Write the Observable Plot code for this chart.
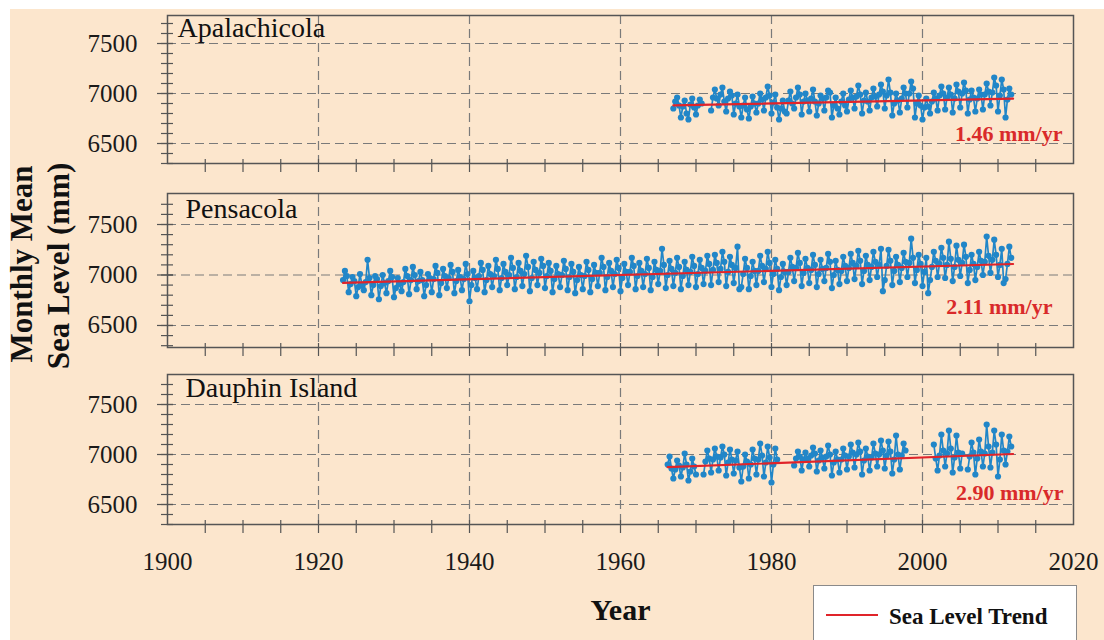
<!DOCTYPE html>
<html><head><meta charset="utf-8">
<script src="https://cdn.jsdelivr.net/npm/d3@7"></script>
<script src="https://cdn.jsdelivr.net/npm/@observablehq/plot@0.6"></script>
<style>
body{margin:0;width:1104px;height:640px;position:relative;overflow:hidden;background:#fff;font-family:"Liberation Serif","Times New Roman",serif;}
#bg{position:absolute;left:10px;top:9px;right:0;bottom:0;background:#fce6cd;}
.panel{position:absolute;left:0;}
.ytitle{position:absolute;width:240px;height:36px;line-height:36px;text-align:center;font-weight:bold;font-size:31px;color:#111;transform:rotate(-90deg);white-space:nowrap;}
#legend{position:absolute;left:813px;top:585px;width:264px;height:70px;box-sizing:border-box;background:#fff;border:1.5px solid #8a8a8a;}
#legend .sw{position:absolute;left:12px;top:28px;width:52px;height:0;border-top:2px solid #e0242a;}
#legend .lt{position:absolute;left:75px;top:19px;font-size:23px;line-height:23px;font-weight:bold;color:#111;white-space:nowrap;}
</style></head><body>
<div id="bg"></div>
<div id="p1" class="panel" style="top:0px"></div>
<div id="p2" class="panel" style="top:180px"></div>
<div id="p3" class="panel" style="top:362px"></div>
<div class="ytitle" style="left:-98px;top:246px;">Monthly Mean</div>
<div class="ytitle" style="left:-61px;top:248px;">Sea Level (mm)</div>
<div id="legend"><span class="sw"></span><span class="lt">Sea Level Trend</span></div>
<script>
// ---------------- data (quarterly readings of monthly mean sea level, mm) ----------------
const stations = ["Apalachicola", "Pensacola", "Dauphin Island"];
const rates = ["1.46 mm/yr", "2.11 mm/yr", "2.90 mm/yr"];
const yTickValues = [6500, 7000, 7500];
const xTickValues = [1900, 1920, 1940, 1960, 1980, 2000, 2020];

// Apalachicola
const apaStarts = [1967.0, 1972.0];
const apa1 = [6850,6920,6960,6880, 6760,6870,6930,6800, 6740,6890,6950,6860, 6790,6880,6940,6900];
const apa2 = [
6830,6960,7040,6950, 6880,6990,7060,6920, 6820,6950,7020,6980, 6790,6900,6990,6870,
6760,6880,6960,6840, 6750,6870,6970,6900, 6810,6900,7000,6940, 6830,6960,7070,6980,
6800,6910,6990,6860, 6740,6850,6930,6820, 6800,6930,7020,6900, 6850,6960,7060,6990,
6790,6920,7000,6930, 6820,6950,7040,6920, 6780,6900,6980,6950, 6830,6960,7030,7010,
6760,6880,6960,6850, 6790,6920,7000,6880, 6820,6940,7030,6960, 6850,6970,7080,6990,
6800,6930,7010,6920, 6830,6960,7050,6970, 6870,6990,7090,7020, 6850,6980,7140,7010,
6780,6900,7000,6930, 6810,6950,7060,7000, 6860,7000,7120,7050, 6760,6900,6980,6880,
6740,6860,6950,6870, 6800,6920,7010,6950, 6830,6980,7070,7000, 6840,6960,7060,6990,
6810,6950,7090,7020, 6860,7000,7110,7030, 6800,6940,7030,6960, 6820,6950,7040,6990,
6840,6990,7100,7020, 6880,7010,7160,7080, 6820,6980,7140,7040, 6760,6940,7050,6990];

// Pensacola
const pensStart = 1923.25;
const pens = [
6950,7040,6990,
6830,6910,6980,6940, 6790,6880,7010,6900, 6850,6930,7150,6970, 6800,6900,6990,6960,
6760,6890,7000,6920, 6820,6940,7040,6980, 6780,6870,6970,6910, 6840,6930,7060,6990,
6810,6950,7080,7000, 6860,6940,7030,6950, 6790,6900,7010,6970, 6830,6960,7090,7020,
6800,6920,7060,6990, 6870,6970,7100,7030, 6820,6940,7050,6980, 6850,6960,7110,7010,
6740,6900,7040,6970, 6860,6990,7120,7050, 6830,6950,7090,7010, 6880,6990,7150,7060,
6850,6970,7110,7030, 6900,7000,7170,7070, 6860,6980,7120,7040, 6890,7010,7190,7080,
6840,6970,7130,7050, 6900,7020,7160,7090, 6870,6990,7120,7040, 6830,6960,7090,7010,
6880,7000,7140,7060, 6850,6980,7110,7030, 6820,6950,7080,7000, 6860,6990,7130,7050,
6830,6960,7100,7020, 6890,7020,7170,7080, 6850,6980,7120,7040, 6880,7010,7150,7070,
6840,6970,7110,7030, 6900,7030,7170,7090, 6860,6990,7120,7040, 6880,7010,7160,7070,
6850,6980,7130,7050, 6910,7040,7260,7100, 6870,7000,7140,7060, 6890,7020,7170,7080,
6860,6990,7130,7050, 6900,7030,7180,7090, 6880,7010,7150,7070, 6910,7040,7190,7110,
6900,7050,7200,7120, 6930,7060,7230,7130, 6890,7030,7180,7100, 6920,7070,7280,6860,
6880,7010,7160,7070, 6860,6990,7130,7040, 6900,7040,7190,7090, 6930,7060,7230,7120,
6880,7010,7150,7060, 6850,6980,7110,7030, 6900,7030,7170,7080, 6940,7070,7220,7120,
6890,7020,7160,7070, 6920,7050,7200,7100, 6880,7010,7150,7060, 6940,7070,7210,7130,
6870,7000,7140,7050, 6910,7040,7180,7090, 6940,7070,7210,7120, 6960,7090,7240,7140,
6910,7040,7190,7100, 6950,7080,7230,7130, 6980,7100,7260,6840, 6950,7090,7250,7140,
6900,7040,7180,7100, 6930,7070,7220,7130, 6980,7120,7360,7170, 6920,7050,7200,7110,
6890,7030,7170,6820, 6950,7080,7230,7140, 6980,7110,7270,7170, 6970,7100,7330,7160,
6940,7080,7290,7150, 6990,7120,7300,7180, 6920,7050,7200,7110, 6950,7080,7230,7140,
7000,7130,7380,7190, 7020,7150,7350,7200, 6980,7100,7260,6920, 6960,7110,7280,7170];

// Dauphin Island (record has gaps)
const dauStarts = [1966.25, 1971.0, 1983.0, 2001.5, 2006.0];
const dau1 = [6900,6980,6860, 6760,6850,6940,6890, 6780,6870,7010,6900, 6740,6830,6960,6880, 6800];
const dau2 = [
6800,6930,7040,6960, 6820,6950,7060,6980, 6840,6970,7080,7000, 6790,6920,7050,6950,
6810,6940,7030,6870, 6730,6880,7000,6930, 6760,6900,7050,6960, 6800,6950,7110,6990,
6780,6920,7080,6970, 6720,6900,7060,6950];
const dau3 = [
6890,6960,7030,6980, 6840,6950,7020,6960, 6880,6990,7070,7010, 6830,6940,7040,6970,
6860,6980,7090,7000, 6790,6920,7030,6950, 6820,6950,7060,6990, 6850,6980,7100,7020,
6870,7000,7120,7030, 6800,6940,7060,6980, 6840,6970,7110,7010, 6880,7000,7140,7040,
6860,6990,7130,7030, 6810,6950,7190,7000, 6850,6990,7110,7040];
const dau4 = [7100,6960, 6840,6990,7200,7040, 6880,7010,7240,7060, 6820,6970,7190,7020, 6860,7010];
const dau5 = [
6850,6980,7120,7020, 6800,6960,7150,7030, 6880,7010,7300,7080,
6870,7020,7240,7100, 6780,6950,7200,7040, 6900,7030,7180,7080];

// linear trend end points [start, end]
const apaTrendYears = [1967.0, 2012.0], apaTrendValues = [6882, 6948];
const pensTrendYears = [1923.25, 2012.0], pensTrendValues = [6922, 7109];
const dauTrendYears = [1966.25, 2012.0], dauTrendValues = [6873, 7005];

// ---------------- build tables ----------------
function rowsFrom(starts, arrays) {
  const out = [];
  arrays.forEach((vals, s) => vals.forEach((v, i) => out.push({year: starts[s] + i / 4, value: v, seg: s})));
  return out;
}
function trendRows(ys, vs) { return ys.map((y, i) => ({year: y, value: vs[i]})); }

const apaRows = rowsFrom(apaStarts, [apa1, apa2]);
const pensRows = rowsFrom([pensStart], [pens]);
const dauRows = rowsFrom(dauStarts, [dau1, dau2, dau3, dau4, dau5]);

// ---------------- drawing ----------------
const W = 1104, ML = 167, MR = 31;
const innerW = W - ML - MR;
const BLUE = "#2186c8", RED = "#e0242a", AX = "#555";
const yMinor = d3.range(6300, 7800, 100);
const xMinor = d3.range(1905, 2020, 5);
const xGrid = [1920, 1940, 1960, 1980, 2000];

function panel(el, o) {
  const H = o.mt + o.ih + o.mb;
  const marks = [
    Plot.ruleY(yTickValues, {stroke: "#7a7a7a", strokeDasharray: "9,5", strokeWidth: 1.2}),
    Plot.ruleX(xGrid, {stroke: "#7a7a7a", strokeDasharray: "9,5", strokeWidth: 1.2}),
    Plot.line(o.rows, {x: "year", y: "value", z: "seg", stroke: BLUE, strokeWidth: 1.7}),
    Plot.dot(o.rows, {x: "year", y: "value", r: 3.1, fill: BLUE}),
    Plot.line(o.trend, {x: "year", y: "value", stroke: RED, strokeWidth: 2.2}),
    Plot.frame({stroke: AX, strokeWidth: 1.5}),
    Plot.tickY(yMinor, {y: d => d, stroke: AX, strokeWidth: 1.2, insetLeft: -6, insetRight: innerW - 6}),
    Plot.tickY(yTickValues, {y: d => d, stroke: AX, strokeWidth: 1.2, insetLeft: -10, insetRight: innerW - 6}),
    Plot.tickX(xMinor, {x: d => d, stroke: AX, strokeWidth: 1.2, insetTop: o.ih - 4, insetBottom: -9}),
    Plot.axisY({ticks: yTickValues, tickSize: 0, tickPadding: 30, tickFormat: d => String(d), fontSize: 25, label: null, fill: "#1a1a1a"}),
    Plot.text([o.name], {text: d => d, frameAnchor: "top-left", textAnchor: "start", lineAnchor: "top", dx: o.nameDx, dy: o.nameDy, fontSize: 28, fill: "#111"}),
    Plot.text([o.rate], {text: d => d, frameAnchor: "bottom-right", textAnchor: "end", lineAnchor: "middle", dx: o.rateDx, dy: o.rateDy, fontSize: 22, fontWeight: "bold", fill: "#d92a2a"})
  ];
  if (o.showX) {
    marks.push(Plot.axisX({ticks: xTickValues, tickSize: 0, tickPadding: 28, tickFormat: d => String(d), fontSize: 25, label: null, fill: "#1a1a1a"}));
    marks.push(Plot.text(["Year"], {text: d => d, frameAnchor: "bottom", lineAnchor: "middle", dy: 86, fontSize: 30, fontWeight: "bold", fill: "#111"}));
  }
  const chart = Plot.plot({
    width: W, height: H,
    marginLeft: ML, marginRight: MR, marginTop: o.mt, marginBottom: o.mb,
    x: {domain: [1900, 2020], axis: o.showX ? undefined : null, label: null},
    y: {domain: o.yDomain, label: null},
    style: {background: "transparent", fontFamily: "'Liberation Serif', 'Times New Roman', serif", overflow: "visible", color: "#1a1a1a"},
    marks
  });
  document.getElementById(el).appendChild(chart);
}

panel("p1", {rows: apaRows, trend: trendRows(apaTrendYears, apaTrendValues), yDomain: [6300, 7780],
  mt: 15, ih: 148, mb: 14, name: stations[0], nameDx: 10, nameDy: 2, rate: rates[0], rateDx: -11, rateDy: -30, showX: false});
panel("p2", {rows: pensRows, trend: trendRows(pensTrendYears, pensTrendValues), yDomain: [6282, 7807],
  mt: 13, ih: 154, mb: 12, name: stations[1], nameDx: 18, nameDy: 5, rate: rates[1], rateDx: -21, rateDy: -41, showX: false});
panel("p3", {rows: dauRows, trend: trendRows(dauTrendYears, dauTrendValues), yDomain: [6300, 7800],
  mt: 12, ih: 150, mb: 116, name: stations[2], nameDx: 18, nameDy: 3, rate: rates[2], rateDx: -10, rateDy: -32, showX: true});
</script>
</body></html>
